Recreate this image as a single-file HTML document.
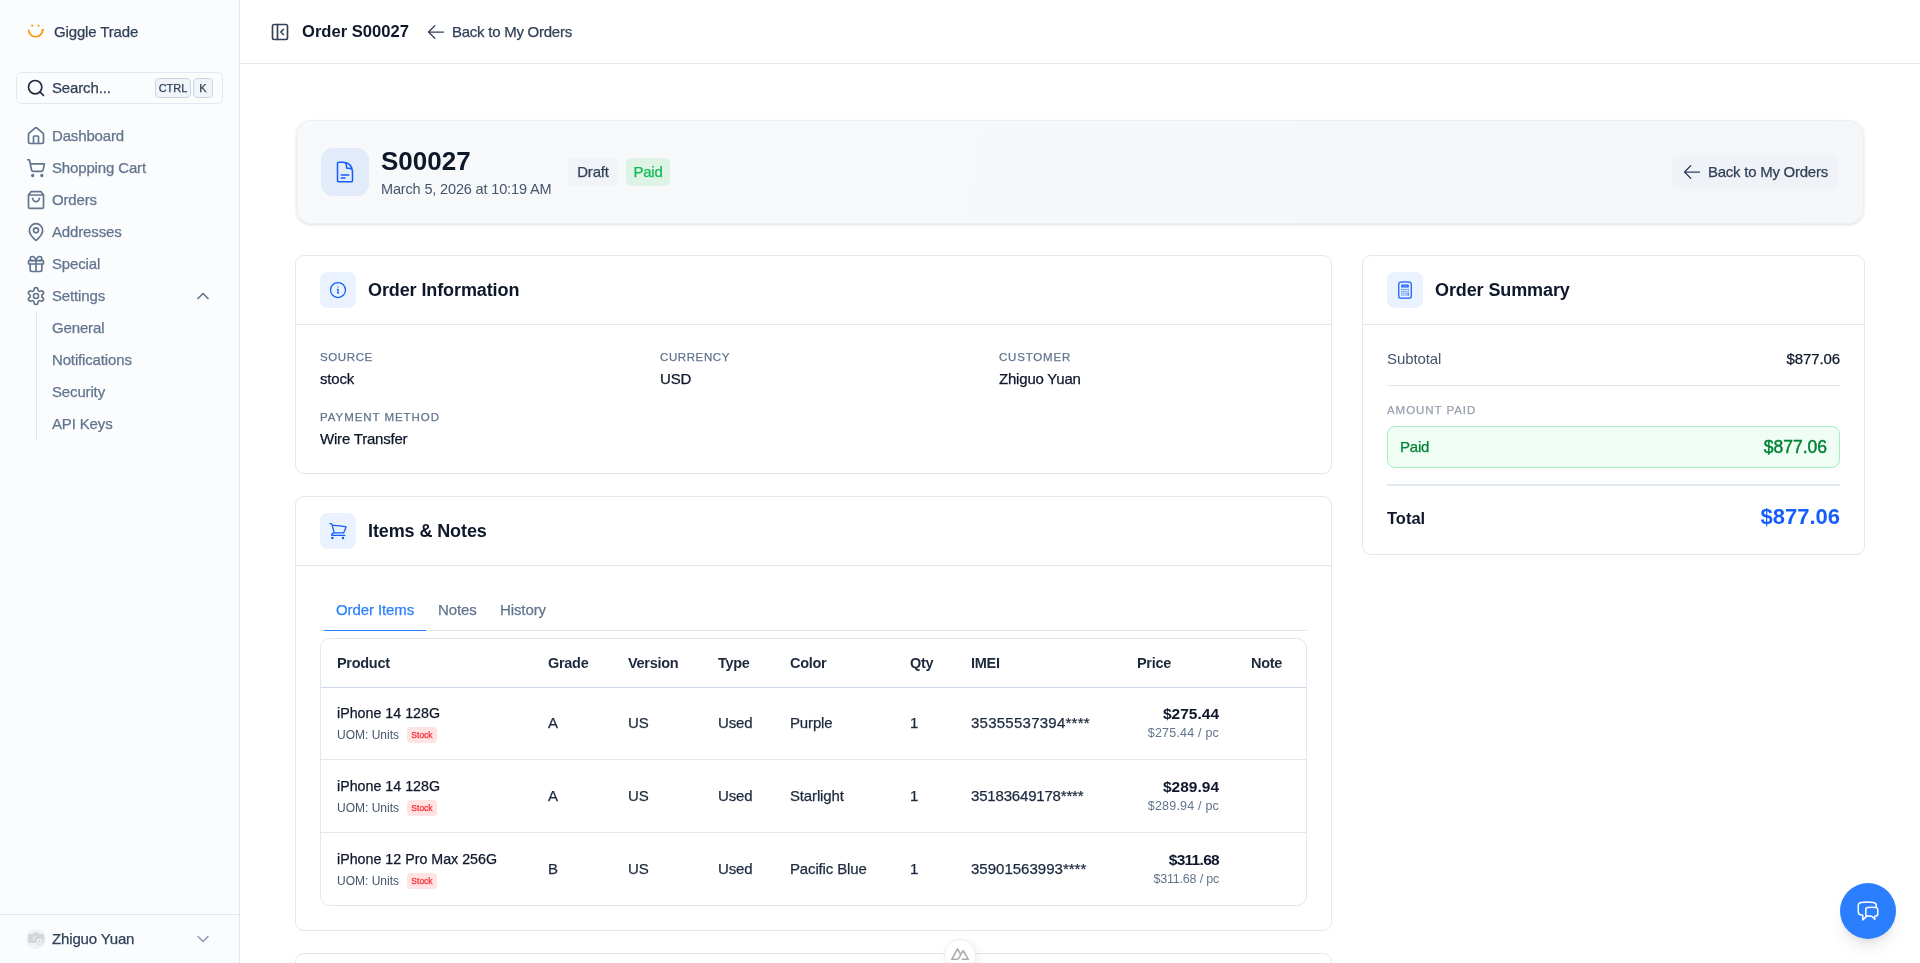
<!DOCTYPE html>
<html lang="en">
<head>
<meta charset="utf-8">
<title>Order S00027</title>
<style>
*{box-sizing:border-box;margin:0;padding:0}
html,body{width:1920px;height:963px;overflow:hidden;background:#fff}
body{font-family:"Liberation Sans",sans-serif;color:#0f172b;font-size:15px;position:relative}
#root{position:absolute;left:0;top:0;width:1920px;height:963px;overflow:hidden;background:#fff;will-change:transform}
.abs{position:absolute}
svg{display:block}
.ico{position:absolute;fill:none;stroke:currentColor;stroke-linecap:round;stroke-linejoin:round}
.m{-webkit-text-stroke:.25px currentColor}
#side{position:absolute;left:0;top:0;width:240px;height:963px;background:#fbfcfe;border-right:1px solid #e2e8f0}
#side .brand{position:absolute;left:54px;top:23px;font-size:15px;letter-spacing:-.15px;color:#314158;line-height:18px;white-space:nowrap}
#search{position:absolute;left:16px;top:72px;width:207px;height:32px;border:1px solid #e2e8f0;border-radius:6px;background:#fbfcfe}
#search .t{position:absolute;left:35px;top:6px;font-size:15px;letter-spacing:-.15px;line-height:18px;color:#314158;white-space:nowrap}
.kbd{position:absolute;top:5px;height:20px;border:1px solid #cad5e2;border-radius:4px;background:#f1f5f9;font-size:11px;line-height:18px;color:#314158;text-align:center}
.nav{position:absolute;left:52px;font-size:15px;letter-spacing:-.15px;line-height:18px;color:#62748e;white-space:nowrap}
#side .foot{position:absolute;left:0;top:914px;width:239px;border-top:1px solid #e2e8f0;height:49px}
#hdr{position:absolute;left:240px;top:0;width:1680px;height:64px;border-bottom:1px solid #e2e8f0;background:#fff}
#hdr .title{position:absolute;left:62px;top:22px;font-size:16.6px;font-weight:bold;line-height:20px;color:#0f172b;white-space:nowrap}
#hdr .back{position:absolute;left:212px;top:23px;font-size:15px;letter-spacing:-.25px;line-height:18px;color:#314158;white-space:nowrap}
.card{position:absolute;background:#fff;border:1px solid #e2e8f0;border-radius:9px}
.card .hd{position:absolute;left:0;top:0;right:0;height:69px;border-bottom:1px solid #e2e8f0}
.card .hd .ib{position:absolute;left:24px;top:16px;width:36px;height:36px;border-radius:8px;background:#e9f2fe}
.card .hd .ht{position:absolute;left:72px;top:23px;font-size:18px;font-weight:bold;letter-spacing:-.1px;line-height:22px;color:#0f172b;white-space:nowrap}
.lbl{position:absolute;font-size:11.5px;line-height:14px;letter-spacing:.6px;color:#62748e;white-space:nowrap}
.val{position:absolute;font-size:15px;letter-spacing:-.2px;line-height:18px;color:#0f172b;white-space:nowrap}
#hero{position:absolute;left:296px;top:120px;width:1568px;height:104px;border:1px solid #eceef2;border-radius:15px;background:linear-gradient(100deg,#f8f9fb 0%,#f5f6f8 100%);box-shadow:0 1px 3px rgba(0,0,0,.1),0 1px 2px -1px rgba(0,0,0,.1)}
.badge{height:28px;border-radius:6px;font-size:15px;letter-spacing:-.2px;line-height:28px;text-align:center;white-space:nowrap}
.th{position:absolute;top:157px;font-size:14.5px;font-weight:bold;letter-spacing:-.3px;line-height:18px;color:#1d293d;white-space:nowrap}
.td{position:absolute;font-size:15px;letter-spacing:-.15px;line-height:18px;color:#1d293d;white-space:nowrap}
.pn{position:absolute;left:41px;font-size:14.25px;line-height:18px;color:#0f172b;white-space:nowrap}
.uom{position:absolute;left:41px;font-size:12px;line-height:14px;color:#45556c;white-space:nowrap}
.stk{position:absolute;left:111px;width:30px;height:16px;border-radius:4px;background:#ffe2e2;color:#fb2c36;font-size:8.5px;line-height:16px;text-align:center;-webkit-text-stroke:.25px #fb2c36}
.pr{position:absolute;right:112px;font-size:15.5px;font-weight:bold;line-height:18px;color:#0f172b;white-space:nowrap}
.pp{position:absolute;right:112px;font-size:12.5px;letter-spacing:.2px;line-height:14px;color:#62748e;white-space:nowrap}
.rl{position:absolute;left:25px;width:985px;height:1px;background:#e2e8f0}
.tab{position:absolute;top:104px;font-size:15px;letter-spacing:-.1px;line-height:18px;color:#62748e;white-space:nowrap}
</style>
</head>
<body>
<div id="root">
<div id="side">
  <svg class="abs" style="left:26px;top:22px" width="20" height="20" viewBox="0 0 20 20" fill="none" stroke="#f99a0a" stroke-width="1.7" stroke-linecap="butt"><path d="M2.6 7.6a7 7 0 0 0 14 .3h1.3"/><path d="M5.2 3.6h1.9M11.6 3.6h1.9"/></svg>
  <div class="brand m">Giggle Trade</div>
  <div id="search"><svg class="ico" style="left:9px;top:5px;color:#1d293d" width="20" height="20" viewBox="0 0 24 24" stroke-width="2"><circle cx="11" cy="11" r="8"/><path d="m21 21-4.3-4.3"/></svg><div class="t m">Search...</div>
    <div class="kbd m" style="left:138px;width:36px">CTRL</div>
    <div class="kbd m" style="left:176px;width:20px">K</div>
  </div>
  <svg class="ico" style="left:26px;top:126px;color:#62748e" width="20" height="20" viewBox="0 0 24 24" stroke-width="2"><path d="M15 21v-8a1 1 0 0 0-1-1h-4a1 1 0 0 0-1 1v8"/><path d="M3 10a2 2 0 0 1 .709-1.528l7-5.999a2 2 0 0 1 2.582 0l7 5.999A2 2 0 0 1 21 10v9a2 2 0 0 1-2 2H5a2 2 0 0 1-2-2z"/></svg><svg class="ico" style="left:26px;top:158px;color:#62748e" width="20" height="20" viewBox="0 0 24 24" stroke-width="2"><circle cx="8" cy="21" r="1"/><circle cx="19" cy="21" r="1"/><path d="M2.05 2.05h2l2.66 12.42a2 2 0 0 0 2 1.58h9.78a2 2 0 0 0 1.95-1.57l1.65-7.43H5.12"/></svg><svg class="ico" style="left:26px;top:190px;color:#62748e" width="20" height="20" viewBox="0 0 24 24" stroke-width="2"><path d="M6 2 3 6v14a2 2 0 0 0 2 2h14a2 2 0 0 0 2-2V6l-3-4Z"/><path d="M3 6h18"/><path d="M16 10a4 4 0 0 1-8 0"/></svg><svg class="ico" style="left:26px;top:222px;color:#62748e" width="20" height="20" viewBox="0 0 24 24" stroke-width="2"><path d="M20 10c0 4.993-5.539 10.193-7.399 11.799a1 1 0 0 1-1.202 0C9.539 20.193 4 14.993 4 10a8 8 0 0 1 16 0"/><circle cx="12" cy="10" r="3"/></svg><svg class="ico" style="left:26px;top:254px;color:#62748e" width="20" height="20" viewBox="0 0 24 24" stroke-width="2"><rect x="3" y="8" width="18" height="4" rx="1"/><path d="M12 8v13"/><path d="M19 12v7a2 2 0 0 1-2 2H7a2 2 0 0 1-2-2v-7"/><path d="M7.5 8a2.5 2.5 0 0 1 0-5A4.8 8 0 0 1 12 8a4.8 8 0 0 1 4.5-5 2.5 2.5 0 0 1 0 5"/></svg><svg class="ico" style="left:26px;top:286px;color:#62748e" width="20" height="20" viewBox="0 0 24 24" stroke-width="2"><path d="M12.22 2h-.44a2 2 0 0 0-2 2v.18a2 2 0 0 1-1 1.73l-.43.25a2 2 0 0 1-2 0l-.15-.08a2 2 0 0 0-2.73.73l-.22.38a2 2 0 0 0 .73 2.73l.15.1a2 2 0 0 1 1 1.72v.51a2 2 0 0 1-1 1.74l-.15.09a2 2 0 0 0-.73 2.73l.22.38a2 2 0 0 0 2.73.73l.15-.08a2 2 0 0 1 2 0l.43.25a2 2 0 0 1 1 1.73V20a2 2 0 0 0 2 2h.44a2 2 0 0 0 2-2v-.18a2 2 0 0 1 1-1.73l.43-.25a2 2 0 0 1 2 0l.15.08a2 2 0 0 0 2.73-.73l.22-.39a2 2 0 0 0-.73-2.73l-.15-.08a2 2 0 0 1-1-1.74v-.5a2 2 0 0 1 1-1.74l.15-.09a2 2 0 0 0 .73-2.73l-.22-.38a2 2 0 0 0-2.73-.73l-.15.08a2 2 0 0 1-2 0l-.43-.25a2 2 0 0 1-1-1.73V4a2 2 0 0 0-2-2z"/><circle cx="12" cy="12" r="3"/></svg><svg class="ico" style="left:193px;top:286px;color:#62748e" width="20" height="20" viewBox="0 0 24 24" stroke-width="2"><path d="m18 15-6-6-6 6"/></svg>
  <div class="nav m" style="top:127px">Dashboard</div>
  <div class="nav m" style="top:159px">Shopping Cart</div>
  <div class="nav m" style="top:191px">Orders</div>
  <div class="nav m" style="top:223px">Addresses</div>
  <div class="nav m" style="top:255px">Special</div>
  <div class="nav m" style="top:287px">Settings</div>
  <div class="abs" style="left:36px;top:312px;width:1px;height:128px;background:#e2e8f0"></div>
  <div class="nav m" style="top:319px">General</div>
  <div class="nav m" style="top:351px">Notifications</div>
  <div class="nav m" style="top:383px">Security</div>
  <div class="nav m" style="top:415px">API Keys</div>
  <div class="foot">
    <div class="abs" style="left:26px;top:14px;width:20px;height:20px;border-radius:50%;background:#eef1f6"></div>
    <svg class="abs" style="left:28px;top:16px" width="16" height="14" viewBox="0 0 16 14"><path d="M1 3.2h3.6L5.8 1.4h3.8l1.2 1.8H15a.8.8 0 0 1 .8.8v7.2a.8.8 0 0 1-.8.8H1a.8.8 0 0 1-.8-.8V4a.8.8 0 0 1 .8-.8Z" fill="#d3d4d6"/><path d="M6 9.6A3 3 0 0 1 8.6 5" stroke="#eef0f3" stroke-width="1.2" fill="none"/><circle cx="11.4" cy="10.2" r="3.3" fill="#f1f2f4" stroke="#d3d4d6" stroke-width=".7"/><path d="M11.4 8.2v4M9.4 10.2h4" stroke="#d3d4d6" stroke-width=".7"/></svg>
    <div class="abs m" style="left:52px;top:15px;font-size:15px;letter-spacing:-.15px;line-height:18px;color:#314158;white-space:nowrap">Zhiguo Yuan</div>
    <svg class="ico" style="left:193px;top:14px;color:#90a1b9" width="20" height="20" viewBox="0 0 24 24" stroke-width="2"><path d="m6 9 6 6 6-6"/></svg>
  </div>
</div>
<div id="hdr">
  <svg class="ico" style="left:30px;top:22px;color:#314158" width="20" height="20" viewBox="0 0 24 24" stroke-width="2"><rect width="18" height="18" x="3" y="3" rx="2"/><path d="M9 3v18"/><path d="m16 15-3-3 3-3"/></svg><svg class="ico" style="left:186px;top:22px;color:#314158" width="20" height="20" viewBox="0 0 24 24" stroke-width="1.5"><path d="M10.5 19.5 3 12m0 0 7.5-7.5M3 12h18"/></svg>
  <div class="title">Order S00027</div>
  <div class="back m">Back to My Orders</div>
</div>
<div id="hero">
  <div class="abs" style="left:24px;top:27px;width:48px;height:48px;border-radius:12px;background:#e2ebfa"></div>
  <svg class="ico" style="left:36px;top:39px;color:#155dfc" width="24" height="24" viewBox="0 0 24 24" stroke-width="1.5"><path d="M19.5 14.25v-2.625a3.375 3.375 0 0 0-3.375-3.375h-1.5A1.125 1.125 0 0 1 13.5 7.125v-1.5a3.375 3.375 0 0 0-3.375-3.375H8.25m0 12.75h7.5m-7.5 3H12M10.5 2.25H5.625c-.621 0-1.125.504-1.125 1.125v17.25c0 .621.504 1.125 1.125 1.125h12.75c.621 0 1.125-.504 1.125-1.125V11.25a9 9 0 0 0-9-9Z"/></svg>
  <div class="abs" style="left:84px;top:25px;font-size:26px;font-weight:bold;line-height:30px;color:#0f172b;white-space:nowrap">S00027</div>
  <div class="abs" style="left:84px;top:59px;font-size:14.5px;letter-spacing:-.15px;line-height:18px;color:#45556c;white-space:nowrap">March 5, 2026 at 10:19 AM</div>
  <div class="abs badge m" style="left:271px;top:37px;width:50px;background:#f1f3f8;color:#314158">Draft</div>
  <div class="abs badge m" style="left:329px;top:37px;width:44px;background:#dcf3e6;color:#12b955">Paid</div>
  <div class="abs" style="left:1375px;top:35px;width:167px;height:32px;border-radius:6px;background:#eff3f8"></div>
  <svg class="ico" style="left:1385px;top:41px;color:#314158" width="20" height="20" viewBox="0 0 24 24" stroke-width="1.5"><path d="M10.5 19.5 3 12m0 0 7.5-7.5M3 12h18"/></svg>
  <div class="abs m" style="left:1411px;top:42px;font-size:15px;letter-spacing:-.25px;line-height:18px;color:#314158;white-space:nowrap">Back to My Orders</div>
</div>
<div class="card" style="left:295px;top:255px;width:1037px;height:219px">
  <div class="hd"><div class="ib"></div><svg class="ico" style="left:32px;top:24px;color:#155dfc" width="20" height="20" viewBox="0 0 24 24" stroke-width="1.5"><path d="m11.25 11.25.041-.02a.75.75 0 0 1 1.063.852l-.708 2.836a.75.75 0 0 0 1.063.853l.041-.021M21 12a9 9 0 1 1-18 0 9 9 0 0 1 18 0Zm-9-3.750h.008v.008H12V8.250Z"/></svg><div class="ht">Order Information</div></div>
  <div class="lbl m" style="left:24px;top:94px">SOURCE</div><div class="val m" style="left:24px;top:114px">stock</div>
  <div class="lbl m" style="left:364px;top:94px">CURRENCY</div><div class="val m" style="left:364px;top:114px">USD</div>
  <div class="lbl m" style="left:703px;top:94px;letter-spacing:.8px">CUSTOMER</div><div class="val m" style="left:703px;top:114px">Zhiguo Yuan</div>
  <div class="lbl m" style="left:24px;top:154px;letter-spacing:.95px">PAYMENT METHOD</div><div class="val m" style="left:24px;top:174px">Wire Transfer</div>
</div>
<div class="card" style="left:1362px;top:255px;width:503px;height:300px">
  <div class="hd"><div class="ib"></div><svg class="ico" style="left:32px;top:24px;color:#155dfc" width="20" height="20" viewBox="0 0 24 24" stroke-width="1.5"><path d="M15.75 15.75V18m-7.5-6.75h.008v.008H8.25v-.008Zm0 2.25h.008v.008H8.25V13.5Zm0 2.25h.008v.008H8.25v-.008Zm0 2.25h.008v.008H8.25V18Zm2.498-6.75h.007v.008h-.007v-.008Zm0 2.25h.007v.008h-.007V13.5Zm0 2.25h.007v.008h-.007v-.008Zm0 2.25h.007v.008h-.007V18Zm2.504-6.75h.008v.008h-.008v-.008Zm0 2.25h.008v.008h-.008V13.5Zm0 2.25h.008v.008h-.008v-.008Zm0 2.25h.008v.008h-.008V18Zm2.498-6.75h.008v.008h-.008v-.008Zm0 2.25h.008v.008h-.008V13.5ZM8.25 6h7.5v2.25h-7.5V6ZM12 2.25c-1.892 0-3.758.11-5.593.322C5.307 2.7 4.5 3.65 4.5 4.757V19.5a2.25 2.25 0 0 0 2.25 2.25h10.5a2.25 2.25 0 0 0 2.25-2.25V4.757c0-1.108-.806-2.057-1.907-2.185A48.507 48.507 0 0 0 12 2.25Z"/></svg><div class="ht">Order Summary</div></div>
  <div class="abs" style="left:24px;top:94px;font-size:15px;letter-spacing:-.1px;line-height:18px;color:#45556c">Subtotal</div>
  <div class="abs m" style="right:24px;top:94px;font-size:15px;letter-spacing:-.1px;line-height:18px;color:#0f172b">$877.06</div>
  <div class="abs" style="left:24px;right:24px;top:129px;height:1px;background:#e2e8f0"></div>
  <div class="lbl m" style="left:24px;top:147px;color:#99a1af;letter-spacing:.95px">AMOUNT PAID</div>
  <div class="abs" style="left:24px;top:170px;width:453px;height:42px;border:1px solid #a4f0c0;border-radius:8px;background:#f0fdf4"></div>
  <div class="abs m" style="left:37px;top:182px;font-size:15px;letter-spacing:-.2px;line-height:18px;color:#008236">Paid</div>
  <div class="abs" style="right:37px;top:181px;font-size:17.5px;line-height:20px;color:#008236;-webkit-text-stroke:.45px #008236">$877.06</div>
  <div class="abs" style="left:24px;right:24px;top:228px;height:2px;background:#e2e8f0"></div>
  <div class="abs" style="left:24px;top:252px;font-size:16.5px;font-weight:bold;line-height:20px;color:#0f172b">Total</div>
  <div class="abs" style="right:24px;top:248px;font-size:22px;font-weight:bold;line-height:26px;color:#155dfc">$877.06</div>
</div>
<div class="card" style="left:295px;top:496px;width:1037px;height:435px">
  <div class="hd"><div class="ib"></div><svg class="ico" style="left:32px;top:24px;color:#155dfc" width="20" height="20" viewBox="0 0 24 24" stroke-width="1.5"><path d="M2.25 3h1.386c.51 0 .955.343 1.087.835l.383 1.437M7.5 14.25a3 3 0 0 0-3 3h15.75m-12.75-3h11.218c1.121-2.3 2.1-4.684 2.924-7.138a60.114 60.114 0 0 0-16.536-1.84M7.5 14.25 5.106 5.272M6 20.25a.75.75 0 1 1-1.5 0 .75.75 0 0 1 1.5 0Zm12.75 0a.75.75 0 1 1-1.5 0 .75.75 0 0 1 1.5 0Z"/></svg><div class="ht">Items &amp; Notes</div></div>
  <div class="tab m" style="left:40px;color:#2b7fff">Order Items</div>
  <div class="tab m" style="left:142px">Notes</div>
  <div class="tab m" style="left:204px">History</div>
  <div class="abs" style="left:24px;top:133px;width:987px;height:1px;background:#e2e8f0"></div>
  <div class="abs" style="left:28px;top:133px;width:102px;height:1px;background:#2b7fff"></div>
  <div class="abs" style="left:24px;top:141px;width:987px;height:268px;border:1px solid #e2e8f0;border-radius:10px"></div>
  <div class="th" style="left:41px">Product</div><div class="th" style="left:252px">Grade</div><div class="th" style="left:332px">Version</div><div class="th" style="left:422px">Type</div><div class="th" style="left:494px">Color</div><div class="th" style="left:614px">Qty</div><div class="th" style="left:675px">IMEI</div><div class="th" style="left:841px">Price</div><div class="th" style="left:955px">Note</div>
  <div class="rl" style="top:190px;background:#cfd8e6"></div>
  <div class="rl" style="top:262px"></div>
  <div class="rl" style="top:335px"></div>
  <div class="pn m" style="top:207px">iPhone 14 128G</div><div class="uom" style="top:231px">UOM: Units</div><div class="stk" style="top:230px">Stock</div><div class="td m" style="left:252px;top:217px">A</div><div class="td m" style="left:332px;top:217px">US</div><div class="td m" style="left:422px;top:217px">Used</div><div class="td m" style="left:494px;top:217px">Purple</div><div class="td m" style="left:614px;top:217px">1</div><div class="td m" style="left:675px;top:217px;letter-spacing:0.25px">35355537394****</div><div class="pr" style="top:208px;letter-spacing:0px">$275.44</div><div class="pp" style="top:229px;letter-spacing:0.2px">$275.44 / pc</div><div class="pn m" style="top:280px">iPhone 14 128G</div><div class="uom" style="top:304px">UOM: Units</div><div class="stk" style="top:303px">Stock</div><div class="td m" style="left:252px;top:290px">A</div><div class="td m" style="left:332px;top:290px">US</div><div class="td m" style="left:422px;top:290px">Used</div><div class="td m" style="left:494px;top:290px">Starlight</div><div class="td m" style="left:614px;top:290px">1</div><div class="td m" style="left:675px;top:290px;letter-spacing:-0.18px">35183649178****</div><div class="pr" style="top:281px;letter-spacing:0px">$289.94</div><div class="pp" style="top:302px;letter-spacing:0.2px">$289.94 / pc</div><div class="pn m" style="top:353px">iPhone 12 Pro Max 256G</div><div class="uom" style="top:377px">UOM: Units</div><div class="stk" style="top:376px">Stock</div><div class="td m" style="left:252px;top:363px">B</div><div class="td m" style="left:332px;top:363px">US</div><div class="td m" style="left:422px;top:363px">Used</div><div class="td m" style="left:494px;top:363px">Pacific Blue</div><div class="td m" style="left:614px;top:363px">1</div><div class="td m" style="left:675px;top:363px;letter-spacing:0.01px">35901563993****</div><div class="pr" style="top:354px;letter-spacing:-0.7px">$311.68</div><div class="pp" style="top:375px;letter-spacing:-0.2px">$311.68 / pc</div>
</div>
<div class="card" style="left:295px;top:953px;width:1037px;height:60px"></div>
<div class="abs" style="left:944px;top:939px;width:32px;height:32px;border-radius:50%;background:#fff;border:1px solid #efefef;box-shadow:2px 2px 8px rgba(0,0,0,.07)"></div>
<svg class="abs" style="left:951px;top:948px" width="18" height="12" viewBox="0 0 18 12" fill="none" stroke="#adadad" stroke-width="1.6" stroke-linejoin="round" stroke-linecap="round"><path d="M0.8 11.3 6.5 0.9 9.6 6.4C9 8.6 7.9 11.3 5.6 11.3Z"/><path d="M9.6 6.4 12.2 2.6 17.3 11.3H11.4"/></svg>
<div class="abs" style="left:1840px;top:883px;width:56px;height:56px;border-radius:50%;background:#2b7fff;box-shadow:0 10px 15px -3px rgba(0,0,0,.1),0 4px 6px -4px rgba(0,0,0,.1)"></div>
<svg class="ico" style="left:1856px;top:899px;color:#fff" width="24" height="24" viewBox="0 0 24 24" stroke-width="1.5"><path d="M20.25 8.511c.884.284 1.5 1.128 1.5 2.097v4.286c0 1.136-.847 2.1-1.98 2.193-.34.027-.68.052-1.02.072v3.091l-3-3c-1.354 0-2.694-.055-4.02-.163a2.115 2.115 0 0 1-.825-.242m9.345-8.334a2.126 2.126 0 0 0-.476-.095 48.64 48.64 0 0 0-8.048 0c-1.131.094-1.976 1.057-1.976 2.192v4.286c0 .837.46 1.58 1.155 1.951m9.345-8.334V6.637c0-1.621-1.152-3.026-2.76-3.235A48.455 48.455 0 0 0 11.25 3c-2.115 0-4.198.137-6.24.402-1.608.209-2.76 1.614-2.76 3.235v6.226c0 1.621 1.152 3.026 2.76 3.235.577.075 1.157.14 1.74.194V21l4.155-4.155"/></svg>

</div>
</body>
</html>
